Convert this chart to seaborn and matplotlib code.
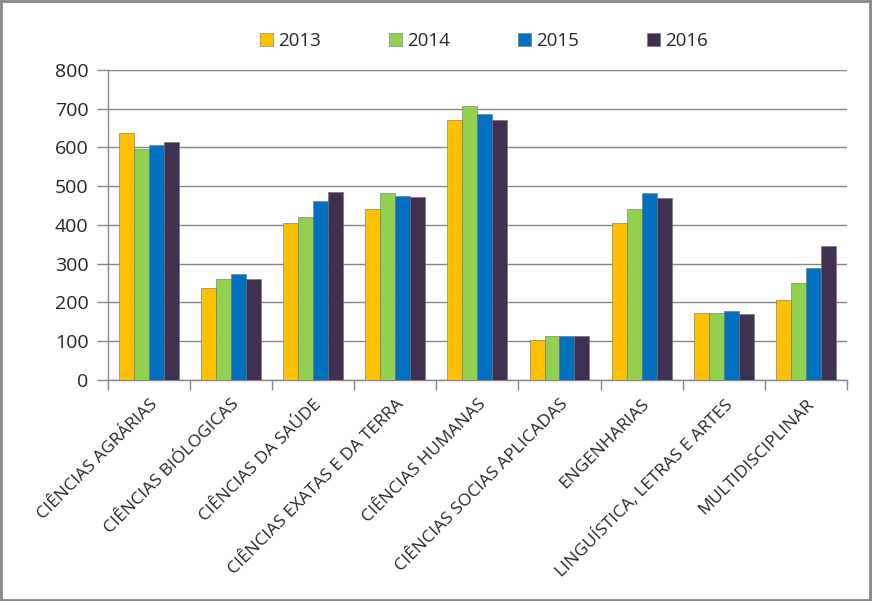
import matplotlib
matplotlib.use("Agg")
import matplotlib.pyplot as plt
import seaborn as sns
import pandas as pd
from matplotlib.patches import Patch, Rectangle

categories = ["CIÊNCIAS AGRÁRIAS", "CIÊNCIAS BIÓLOGICAS", "CIÊNCIAS DA SAÚDE",
              "CIÊNCIAS EXATAS E DA TERRA", "CIÊNCIAS HUMANAS", "CIÊNCIAS SOCIAS APLICADAS",
              "ENGENHARIAS", "LINGUÍSTICA, LETRAS E ARTES", "MULTIDISCIPLINAR"]
years = ["2013", "2014", "2015", "2016"]
v2013 = [638, 238, 404, 442, 671, 103, 404, 172, 206]
v2014 = [595, 260, 421, 482, 707, 112, 441, 172, 249]
v2015 = [606, 273, 462, 475, 686, 112, 483, 177, 288]
v2016 = [614, 261, 485, 473, 671, 112, 470, 169, 346]
colors = ["#FFC000", "#92D050", "#0070C0", "#403152"]

rows = []
for y, vals in zip(years, [v2013, v2014, v2015, v2016]):
    for c, v in zip(categories, vals):
        rows.append({"cat": c, "year": y, "value": v})
df = pd.DataFrame(rows)

sns.set_style("white")
plt.rcParams['font.family'] = ['Open Sans', 'DejaVu Sans']

fig = plt.figure(figsize=(8.72, 6.01), dpi=100)
ax = fig.add_axes([0.124, 0.368, 0.847, 0.5155])

sns.barplot(data=df, x="cat", y="value", hue="year", order=categories,
            hue_order=years, palette=colors, saturation=1, width=0.73, gap=0,
            edgecolor="#6f6f6f", linewidth=0.4, ax=ax, legend=False, zorder=3)

ax.set_ylim(0, 800)
ax.set_xlim(-0.5, len(categories) - 0.5)
ax.set_yticks(range(0, 801, 100))
ax.yaxis.grid(True, color="#868686", linewidth=1)
ax.set_axisbelow(True)
ax.set_xlabel("")
ax.set_ylabel("")
for s in ["top", "right"]:
    ax.spines[s].set_visible(False)
for s in ["left", "bottom"]:
    ax.spines[s].set_color("#868686")
    ax.spines[s].set_linewidth(1)

ax.tick_params(axis="y", labelsize=14, length=8, direction="out", color="#868686",
               left=True, width=1, pad=6)
ax.set_xticks(range(len(categories)))
ax.set_xticklabels(categories, rotation=45, ha="right", rotation_mode="anchor", fontsize=12.6)
ax.tick_params(axis="x", length=0, pad=12)
ax.set_xticks([i - 0.5 for i in range(len(categories) + 1)], minor=True)
ax.tick_params(axis="x", which="minor", length=7, color="#868686", width=1, bottom=True)

handles = [Patch(facecolor=c, edgecolor="#6f6f6f", linewidth=0.4) for c in colors]
fig.legend(handles, years, loc="center", bbox_to_anchor=(0.555, 0.932), ncol=4,
           frameon=False, fontsize=13.5, handlelength=0.7, handleheight=0.7,
           handletextpad=0.3, columnspacing=3.6)

fig.patches.append(Rectangle((0.001, 0.001), 0.997, 0.997, transform=fig.transFigure,
                             fill=False, edgecolor="#868686", linewidth=2))

fig.savefig("out.png", dpi=100)
